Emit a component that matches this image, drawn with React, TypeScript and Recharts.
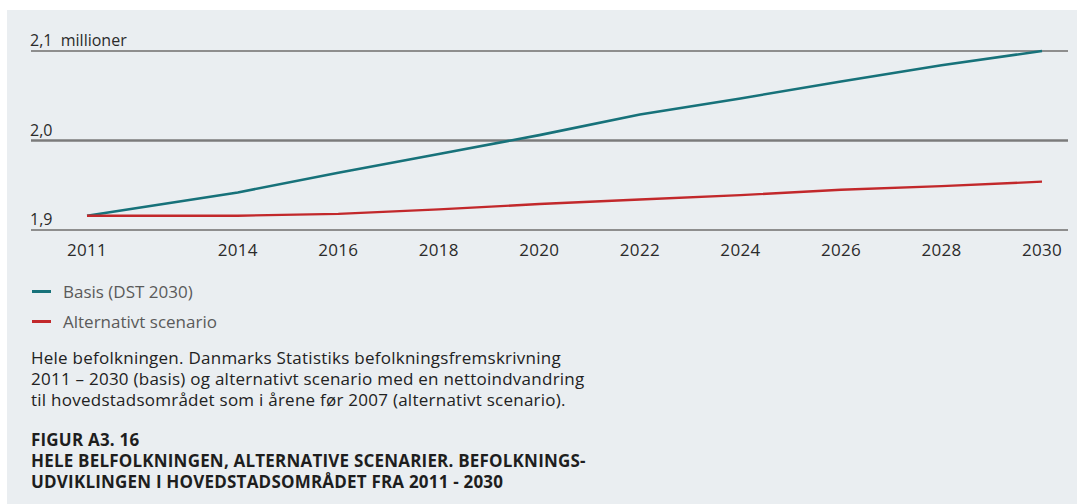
import { Legend, Line, LineChart, ReferenceLine, XAxis, YAxis } from "recharts";

// Befolkning i hovedstadsområdet, mio. personer
const years = [2011, 2014, 2016, 2018, 2020, 2022, 2024, 2026, 2028, 2030];
const basis = [1.916, 1.942, 1.964, 1.985, 2.006, 2.029, 2.047, 2.066, 2.084, 2.1];
const alternativ = [1.916, 1.916, 1.918, 1.923, 1.929, 1.934, 1.939, 1.945, 1.949, 1.954];

const yTicks = [1.9, 2.0, 2.1];
const seriesNames = ["Basis (DST 2030)", "Alternativt scenario"];
const seriesColors = ["#17727a", "#c2282b"];

const captionLines = [
  "Hele befolkningen. Danmarks Statistiks befolkningsfremskrivning",
  "2011 – 2030 (basis) og alternativt scenario med en nettoindvandring",
  "til hovedstadsområdet som i årene før 2007 (alternativt scenario).",
];
const titleLines = [
  "FIGUR A3. 16",
  "HELE BELFOLKNINGEN, ALTERNATIVE SCENARIER. BEFOLKNINGS-",
  "UDVIKLINGEN I HOVEDSTADSOMRÅDET FRA 2011 - 2030",
];

const data = years.map((year, i) => ({
  year,
  basis: basis[i],
  alternativ: alternativ[i],
}));

const FONT = "'Open Sans', 'Noto Sans', sans-serif";
const BG = "#eaeef1";

const yLabel = (v: number) =>
  v.toFixed(1).replace(".", ",") + (v === 2.1 ? "\u00a0\u00a0millioner" : "");

function renderYTick(props: any) {
  const { y, payload } = props;
  return (
    <text
      key={payload.value}
      x={23}
      y={y - 5}
      fill="#2b2b2b"
      fontSize={16}
      fontFamily={FONT}
      textAnchor="start"
    >
      {yLabel(payload.value)}
    </text>
  );
}

function LegendContent() {
  return (
    <div
      style={{
        boxSizing: "border-box",
        height: 90,
        paddingLeft: 2,
        paddingTop: 16,
        fontFamily: FONT,
      }}
    >
      {seriesNames.map((name, i) => (
        <div
          key={name}
          style={{
            display: "flex",
            alignItems: "center",
            height: 30,
            color: "#5a5a5a",
            fontSize: 17,
          }}
        >
          <span
            style={{
              display: "inline-block",
              width: 19,
              height: 3,
              background: seriesColors[i],
              marginRight: 12,
            }}
          />
          {name}
        </div>
      ))}
    </div>
  );
}

export default function App() {
  return (
    <div
      style={{
        position: "absolute",
        left: 7,
        top: 10,
        width: 1070,
        height: 494,
        background: BG,
        fontFamily: FONT,
      }}
    >
      <LineChart
        width={1070}
        height={340}
        data={data}
        margin={{ top: 41, right: 9, bottom: 0, left: 23 }}
      >
        <XAxis
          dataKey="year"
          type="number"
          domain={[2011, 2030]}
          ticks={years}
          padding={{ left: 56, right: 26 }}
          axisLine={false}
          tickLine={false}
          tickSize={0}
          tickMargin={14}
          height={30}
          tick={{ fill: "#2b2b2b", fontSize: 17, fontFamily: FONT, letterSpacing: 0.3 }}
        />
        <YAxis
          type="number"
          domain={[1.9, 2.1]}
          ticks={yTicks}
          width={1}
          interval={0}
          axisLine={false}
          tickLine={false}
          tick={renderYTick}
        />
        <ReferenceLine y={2.1} stroke="#8e8e8e" strokeWidth={1.8} />
        <ReferenceLine y={2.0} stroke="#7b7b7b" strokeWidth={2.6} />
        <ReferenceLine y={1.9} stroke="#8e8e8e" strokeWidth={1.8} />
        <Legend verticalAlign="bottom" align="left" content={<LegendContent />} />
        <Line
          dataKey="basis"
          name={seriesNames[0]}
          type="linear"
          stroke={seriesColors[0]}
          strokeWidth={2.6}
          dot={false}
          isAnimationActive={false}
        />
        <Line
          dataKey="alternativ"
          name={seriesNames[1]}
          type="linear"
          stroke={seriesColors[1]}
          strokeWidth={2.4}
          dot={false}
          isAnimationActive={false}
        />
      </LineChart>
      <div
        style={{
          position: "absolute",
          left: 24,
          top: 337,
          color: "#222",
          fontSize: 17,
          lineHeight: "21px",
          letterSpacing: 0.25,
        }}
      >
        {captionLines.map((l) => (
          <div key={l}>{l}</div>
        ))}
      </div>
      <div
        style={{
          position: "absolute",
          left: 24,
          top: 419,
          color: "#1e1e1e",
          fontSize: 17,
          fontWeight: 700,
          lineHeight: "21px",
          letterSpacing: 0.2,
        }}
      >
        {titleLines.map((l) => (
          <div key={l}>{l}</div>
        ))}
      </div>
    </div>
  );
}
